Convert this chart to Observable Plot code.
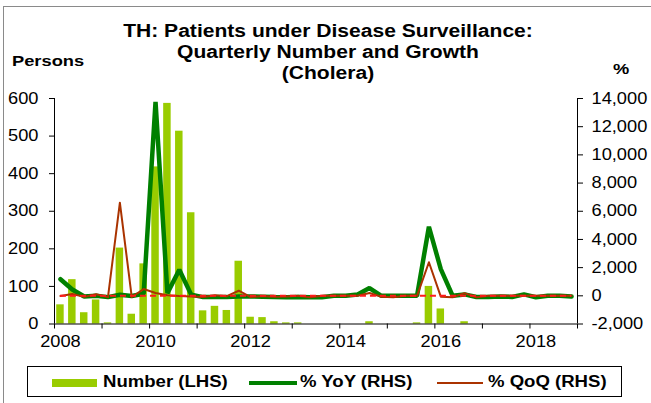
<!DOCTYPE html>
<html>
<head>
<meta charset="utf-8">
<script src="https://cdn.jsdelivr.net/npm/d3@7"></script>
<script src="https://cdn.jsdelivr.net/npm/@observablehq/plot@0.6"></script>
<style>
  html, body { margin: 0; padding: 0; background: #fff; }
  #wrap { position: relative; width: 651px; height: 403px; overflow: hidden; font-family: "Liberation Sans", Arial, sans-serif; color: #000; }
  .abs { position: absolute; white-space: nowrap; }
  #frame { position: absolute; left: 3px; top: 6px; width: 700px; height: 420px; border-left: 1.5px solid #8a8a8a; border-top: 1.5px solid #8a8a8a; }
  #title { left: 0; width: 656px; top: 21px; text-align: center; font-weight: bold; font-size: 18px; line-height: 21px; transform: scaleX(1.17); transform-origin: 328px 0; }
  #lhs { left: 12px; top: 52px; font-weight: bold; font-size: 15.5px; transform: scaleX(1.18); transform-origin: 0 0; }
  #rhs { left: 613px; top: 60px; font-weight: bold; font-size: 15.5px; transform: scaleX(1.18); transform-origin: 0 0; }
  #plot { position: absolute; left: 0; top: 85px; }
  #legend { position: absolute; left: 27px; top: 366px; width: 595px; height: 31px; border: 1px solid #000; box-sizing: border-box; }
  .lg-text { position: absolute; top: 6px; font-weight: bold; font-size: 16px; line-height: 18px; transform: scaleX(1.16); transform-origin: 0 0; }
  .sw { position: absolute; }
</style>
</head>
<body>
<div id="wrap">
  <div id="frame"></div>
  <div id="title" class="abs">TH: Patients under Disease Surveillance:<br>Quarterly Number and Growth<br>(Cholera)</div>
  <div id="lhs" class="abs">Persons</div>
  <div id="rhs" class="abs">%</div>
  <div id="plot"></div>
  <div id="legend">
    <div class="sw" style="left:24px; top:12px; width:45px; height:8px; background:#99cc00;"></div>
    <div class="lg-text" style="left:75px;">Number (LHS)</div>
    <div class="sw" style="left:221px; top:14px; width:48px; height:4px; background:#008000;"></div>
    <div class="lg-text" style="left:272px;">% YoY (RHS)</div>
    <div class="sw" style="left:409px; top:15px; width:46px; height:2px; background:#aa3300;"></div>
    <div class="lg-text" style="left:460px;">% QoQ (RHS)</div>
  </div>
</div>
<script>
// ---- data ----
const years = [2008, 2009, 2010, 2011, 2012, 2013, 2014, 2015, 2016, 2017, 2018];
const quarters = [1, 2, 3, 4];

// Number of patients (LHS), quarterly 2008Q1 .. 2018Q4
const number = [
  51, 118, 30, 64,
  3, 202, 26, 160,
  418, 587, 513, 296,
  35, 47, 36, 167,
  18, 17, 6, 3,
  3, 0, 0, 0,
  0, 0, 6, 0,
  0, 0, 3, 100,
  40, 0, 6, 0,
  0, 0, 0, 0,
  0, 0, 0, 0
];

// % YoY (RHS)
const yoy = [
  1180, 450, -50, 0,
  -94, 71, -13, 150,
  13760, 190, 1850, 85,
  -92, -92, -93, -44,
  -49, -64, -83, -98,
  -83, -100, -100, 0,
  0, 100, 550, 0,
  0, 0, 0, 4900,
  1890, 0, 100, -80,
  -90, -50, -80, 100,
  -100, 0, 0, -50
];

// % QoQ (RHS)
const qoq = [
  -20, 131, -75, 113,
  -95, 6610, -87, 480,
  200, 40, -13, -42,
  -88, 34, -23, 360,
  -89, -6, -65, -50,
  0, -100, 0, 0,
  0, 0, 200, -67,
  -100, 0, 0, 2380,
  -60, -100, 190, -100,
  0, 0, 0, 0,
  0, 0, 0, 0
];

const leftTicks = [0, 100, 200, 300, 400, 500, 600];
const rightTicks = [-2000, 0, 2000, 4000, 6000, 8000, 10000, 12000, 14000];
const yearTicks = [2008, 2009, 2010, 2011, 2012, 2013, 2014, 2015, 2016, 2017, 2018, 2019];
const labelYears = [2008, 2010, 2012, 2014, 2016, 2018];

// ---- build table ----
const rows = [];
years.forEach((yr, yi) => quarters.forEach((q, qi) => {
  const i = yi * 4 + qi;
  rows.push({year: yr, q, start: yr + (q - 1) / 4, end: yr + q / 4, mid: yr + (q - 0.5) / 4,
             number: number[i], yoy: yoy[i], qoq: qoq[i]});
}));

// right-hand scale (-2000..14000) mapped onto left-hand domain (0..600)
const rhs = d3.scaleLinear().domain([-2000, 14000]).range([0, 600]);

const chart = Plot.plot({
  width: 651,
  height: 270,
  marginLeft: 54,
  marginRight: 74,
  marginTop: 13,
  marginBottom: 31.5,
  style: {fontFamily: "Liberation Sans, Arial, sans-serif", fontSize: "16px", color: "#000", background: "transparent", overflow: "visible"},
  x: {domain: [2008, 2019]},
  y: {domain: [0, 600]},
  marks: [
    Plot.rectY(rows, {x1: "start", x2: "end", y: "number", fill: "#99cc00", insetLeft: 2.2, insetRight: 2.2}),
    Plot.line(rows, {x: "mid", y: d => rhs(d.yoy), stroke: "#008000", strokeWidth: 4.5, strokeLinejoin: "miter"}),
    Plot.line(rows, {x: "mid", y: d => rhs(d.qoq), stroke: "#aa3300", strokeWidth: 2}),
    Plot.ruleY([rhs(0)], {x1: rows[0].mid, x2: rows[rows.length - 1].mid, stroke: "#ff1a1a", strokeWidth: 2, strokeDasharray: "6,4"}),
    // axis lines
    Plot.ruleX([2008], {y1: 0, y2: 600, stroke: "#000", strokeWidth: 1}),
    Plot.ruleX([2019], {y1: 0, y2: 600, stroke: "#000", strokeWidth: 1}),
    Plot.ruleY([0], {x1: 2008, x2: 2019, stroke: "#000", strokeWidth: 1}),
    // left axis
    Plot.axisY(leftTicks, {anchor: "left", tickSize: 5, tickPadding: 11, label: null, tickFormat: d => String(d)}),
    // right axis
    Plot.axisY(rightTicks, {anchor: "right", y: d => rhs(d), tickSize: 5, tickPadding: 9, label: null,
                            tickFormat: d => d.toLocaleString("en-US")}),
    // x ticks (year boundaries) and labels (first quarter of even years)
    Plot.axisX(yearTicks, {anchor: "bottom", tickSize: 5, tickFormat: () => "", label: null}),
    Plot.axisX(labelYears, {anchor: "bottom", x: d => d + 0.125, tickSize: 0, tickPadding: 12, label: null, tickFormat: d => String(d)})
  ]
});
document.getElementById("plot").appendChild(chart);

// widen axis glyphs slightly, as in the reference rendering
chart.querySelectorAll("text").forEach(t => {
  const len = t.getComputedTextLength();
  if (len > 0) {
    t.setAttribute("textLength", (len * 1.14).toFixed(2));
    t.setAttribute("lengthAdjust", "spacingAndGlyphs");
  }
});
</script>
</body>
</html>
